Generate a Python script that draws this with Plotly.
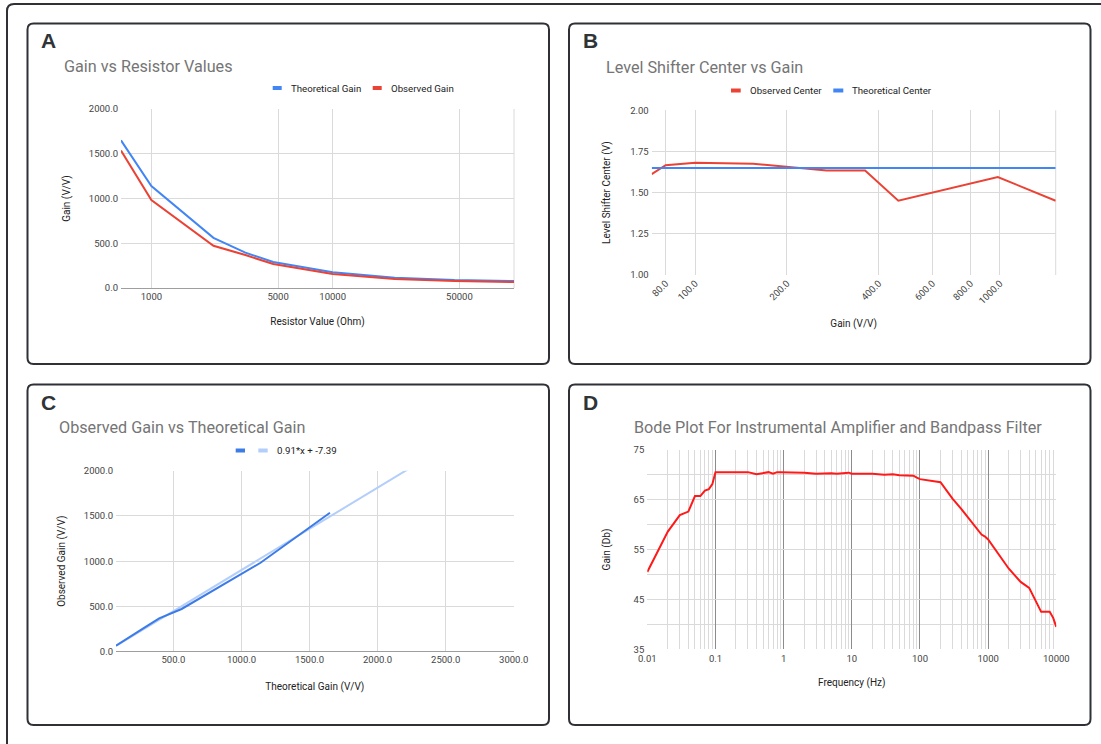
import plotly.graph_objects as go
import math

W, H = 1101, 744

# ---------------- data ----------------
# Panel A : Gain vs Resistor Values
resistor_ohm = [680, 1000, 2200, 3300, 4700, 10000, 22000, 47000, 100000]
theoretical_gain = [1650, 1140, 560, 395, 290, 175, 115, 89, 78]
observed_gain = [1535, 983, 472, 368, 268, 156, 100, 78, 67]
names_a = ["Theoretical Gain", "Observed Gain"]
ticks_a_x = [1000, 5000, 10000, 50000]
ticks_a_y = [0, 500, 1000, 1500, 2000]

# Panel B : Level Shifter Center vs Gain
center_gain = [72, 80, 100, 155, 270, 361, 464, 984, 1524]
observed_center = [1.612, 1.667, 1.682, 1.676, 1.634, 1.634, 1.451, 1.595, 1.451]
theoretical_center = [1.65, 1.65, 1.65, 1.65, 1.65, 1.65, 1.65, 1.65, 1.65]
names_b = ["Observed Center", "Theoretical Center"]
ticks_b_x = [80, 100, 200, 400, 600, 800, 1000]
ticks_b_y = [1.00, 1.25, 1.50, 1.75, 2.00]

# Panel C : Observed Gain vs Theoretical Gain (trendline coefficients)
trend_slope = 0.91
trend_intercept = -7.39
ticks_c_x = [500, 1000, 1500, 2000, 2500, 3000]
ticks_c_y = [0, 500, 1000, 1500, 2000]

# Panel D : Bode plot
freq_hz = [0.01, 0.02, 0.03, 0.04, 0.05, 0.06, 0.07, 0.08, 0.09,
           0.1, 0.2, 0.3, 0.4, 0.5, 0.6, 0.7, 0.8, 0.9,
           1, 2, 3, 4, 5, 6, 7, 8, 9,
           10, 20, 30, 40, 50, 60, 70, 80, 90,
           100, 200, 300, 400, 500, 600, 700, 800, 900,
           1000, 2000, 3000, 4000, 5000, 6000, 7000, 8000, 9000, 10000]
gain_db = [50.5, 58.6, 61.9, 62.6, 65.7, 65.7, 66.8, 67.1, 68.1,
           70.5, 70.5, 70.5, 70.1, 70.3, 70.5, 70.2, 70.5, 70.5,
           70.5, 70.4, 70.2, 70.3, 70.3, 70.2, 70.3, 70.3, 70.4,
           70.2, 70.2, 70.0, 70.1, 69.9, 69.9, 69.9, 69.8, 69.4,
           69.1, 68.5, 65.2, 63.2, 61.5, 60.0, 58.8, 58.0, 57.6,
           57.0, 51.2, 48.5, 47.3, 44.8, 42.5, 42.5, 42.5, 41.3, 39.5]
ticks_d_x = [0.01, 0.1, 1, 10, 100, 1000, 10000]
ticks_d_y = [35, 45, 55, 65, 75]
minor_d_y = [40, 50, 60, 70]

# ---------------- style ----------------
FONT = "Roboto, Arial, sans-serif"
BLUE = "#4285F4"
RED = "#EA4335"
LIGHTBLUE = "#b3cefa"
GRID = "#dadada"
TICKC = "#444444"
TITLEC = "#757575"
BORDER = "#2f3137"


def X(px):
    return px / W


def Y(py):
    return 1 - py / H


fig = go.Figure()

# A
fig.add_trace(go.Scatter(x=resistor_ohm, y=theoretical_gain, name=names_a[0], mode="lines",
                         line=dict(color=BLUE, width=2), xaxis="x", yaxis="y", showlegend=False))
fig.add_trace(go.Scatter(x=resistor_ohm, y=observed_gain, name=names_a[1], mode="lines",
                         line=dict(color=RED, width=2), xaxis="x", yaxis="y", showlegend=False))
# B
fig.add_trace(go.Scatter(x=center_gain, y=observed_center, name=names_b[0], mode="lines",
                         line=dict(color=RED, width=2), xaxis="x2", yaxis="y2", showlegend=False))
fig.add_trace(go.Scatter(x=center_gain, y=theoretical_center, name=names_b[1], mode="lines",
                         line=dict(color=BLUE, width=2), xaxis="x2", yaxis="y2", showlegend=False))
# C
c_xmin = min(theoretical_gain)
c_xmax = ticks_c_x[-1]
trend_x = [c_xmin, c_xmax]
trend_y = [trend_slope * v + trend_intercept for v in trend_x]
trend_name = f"{trend_slope}*x + {trend_intercept}"
fig.add_trace(go.Scatter(x=trend_x, y=trend_y, name=trend_name, mode="lines",
                         line=dict(color=LIGHTBLUE, width=2), xaxis="x3", yaxis="y3", showlegend=False))
fig.add_trace(go.Scatter(x=theoretical_gain, y=observed_gain, name="Observed Gain", mode="lines",
                         line=dict(color="#3d7be6", width=2), xaxis="x3", yaxis="y3", showlegend=False))
# D
fig.add_trace(go.Scatter(x=freq_hz, y=gain_db, name="Gain (Db)", mode="lines",
                         line=dict(color="#ff1a1a", width=2), xaxis="x4", yaxis="y4", showlegend=False))

tickfont = dict(family=FONT, size=9.5, color=TICKC)
titlefont = dict(family=FONT, size=10, color="#222222")


def ax(domain, **kw):
    d = dict(domain=domain, showgrid=True, gridcolor=GRID, gridwidth=1, zeroline=False,
             showline=False, ticks="", tickfont=tickfont, fixedrange=True)
    d.update(kw)
    return d


def dom_x(a, b):
    return [X(a), X(b)]


def dom_y(top, bottom):
    return [Y(bottom), Y(top)]


A_x, A_y = (121, 514), (109, 288)
B_x, B_y = (651.7, 1055.7), (110.3, 275)
C_x, C_y = (116, 513.7), (470.7, 651.7)
D_x, D_y = (647.3, 1056.3), (449.7, 649.3)

fig.update_layout(
    width=W, height=H, margin=dict(l=0, r=0, t=0, b=0),
    paper_bgcolor="white", plot_bgcolor="white", template="none",
    font=dict(family=FONT),
    xaxis=ax(dom_x(*A_x), anchor="y", type="log",
             range=[math.log10(resistor_ohm[0]), math.log10(resistor_ohm[-1])],
             tickvals=ticks_a_x, ticktext=[str(v) for v in ticks_a_x], ticklabelstandoff=1,
             title=dict(text="Resistor Value (Ohm)", font=titlefont, standoff=17)),
    yaxis=ax(dom_y(*A_y), anchor="x", range=[0, 2000], tickvals=ticks_a_y, ticklabelstandoff=2,
             ticktext=[f"{v:.1f}" for v in ticks_a_y], zeroline=True, zerolinecolor="#9e9e9e", zerolinewidth=1,
             title=dict(text="Gain (V/V)", font=titlefont, standoff=16)),
    xaxis2=ax(dom_x(*B_x), anchor="y2", type="log",
              range=[math.log10(center_gain[0]), math.log10(center_gain[-1])],
              tickvals=ticks_b_x, ticktext=[f"{v:.1f}" for v in ticks_b_x], tickangle=-45,
              title=dict(text="Gain (V/V)", font=titlefont, standoff=14)),
    yaxis2=ax(dom_y(*B_y), anchor="x2", range=[1, 2], tickvals=ticks_b_y, ticklabelstandoff=2,
              ticktext=[f"{v:.2f}" for v in ticks_b_y],
              title=dict(text="Level Shifter Center (V)", font=titlefont, standoff=17)),
    xaxis3=ax(dom_x(*C_x), anchor="y3", range=[c_xmin, c_xmax], tickvals=ticks_c_x,
              ticktext=[f"{v:.1f}" for v in ticks_c_x], ticklabelstandoff=1,
              title=dict(text="Theoretical Gain (V/V)", font=titlefont, standoff=18)),
    yaxis3=ax(dom_y(*C_y), anchor="x3", range=[0, 2000], tickvals=ticks_c_y, ticklabelstandoff=2,
              ticktext=[f"{v:.1f}" for v in ticks_c_y], zeroline=True, zerolinecolor="#9e9e9e", zerolinewidth=1,
              title=dict(text="Observed Gain (V/V)", font=titlefont, standoff=16)),
    xaxis4=ax(dom_x(*D_x), anchor="y4", type="log", range=[-2, 4], tickvals=ticks_d_x,
              ticktext=[f"{v:g}" for v in ticks_d_x], gridcolor="#8c8c8c", ticklabelstandoff=2,
              minor=dict(tickvals=[m * 10 ** e for e in range(-2, 4) for m in range(2, 10)],
                         showgrid=True, gridcolor=GRID, gridwidth=1, ticks=""),
              title=dict(text="Frequency (Hz)", font=titlefont, standoff=16)),
    yaxis4=ax(dom_y(*D_y), anchor="x4", range=[35, 75], tickvals=ticks_d_y, ticklabelstandoff=2,
              ticktext=[str(v) for v in ticks_d_y],
              minor=dict(tickvals=minor_d_y, showgrid=True, gridcolor=GRID, gridwidth=1, ticks=""),
              title=dict(text="Gain (Db)", font=titlefont, standoff=21)),
)

shapes = []
annotations = []


def rrect(x0, y0, x1, y1, r, color=BORDER, width=2):
    p = (f"M {X(x0 + r)},{Y(y0)} L {X(x1 - r)},{Y(y0)} Q {X(x1)},{Y(y0)} {X(x1)},{Y(y0 + r)} "
         f"L {X(x1)},{Y(y1 - r)} Q {X(x1)},{Y(y1)} {X(x1 - r)},{Y(y1)} "
         f"L {X(x0 + r)},{Y(y1)} Q {X(x0)},{Y(y1)} {X(x0)},{Y(y1 - r)} "
         f"L {X(x0)},{Y(y0 + r)} Q {X(x0)},{Y(y0)} {X(x0 + r)},{Y(y0)} Z")
    return dict(type="path", path=p, xref="paper", yref="paper", line=dict(color=color, width=width))


shapes.append(rrect(7, 4, 1112, 760, 7))
shapes.append(rrect(27.5, 23.5, 549, 364, 6))
shapes.append(rrect(569, 23.5, 1090.5, 364, 6))
shapes.append(rrect(27.5, 384.5, 549, 725, 6))
shapes.append(rrect(569, 384.5, 1090.5, 725, 6))

# right-edge frame lines for A and B plot areas
for xr, yr in (("x", "y"), ("x2", "y2")):
    shapes.append(dict(type="line", xref=f"{xr} domain", yref=f"{yr} domain", x0=1, x1=1, y0=0, y1=1,
                       line=dict(color=GRID, width=1), layer="below"))

# panel letters
for letter, lx, ly in (("A", 38.5, 41), ("B", 580.5, 41), ("C", 38.5, 402), ("D", 580.5, 402)):
    annotations.append(dict(text=f"<b>{letter}</b>", x=X(lx), y=Y(ly), xref="paper", yref="paper",
                            xanchor="left", yanchor="middle", showarrow=False,
                            font=dict(family="Liberation Sans, Arial, sans-serif", size=21, color="#2f3437")))

# chart titles
for t, tx, ty in (("Gain vs Resistor Values", 61.5, 66),
                  ("Level Shifter Center vs Gain", 603.5, 67.5),
                  ("Observed Gain vs Theoretical Gain", 57, 427.5),
                  ("Bode Plot For Instrumental Amplifier and Bandpass Filter", 631.5, 427)):
    annotations.append(dict(text=t, x=X(tx), y=Y(ty), xref="paper", yref="paper",
                            xanchor="left", yanchor="middle", showarrow=False,
                            font=dict(family=FONT, size=16.2, color=TITLEC)))


def legend_item(x0, x1, yc, color, label):
    shapes.append(dict(type="rect", xref="paper", yref="paper", x0=X(x0), x1=X(x1),
                       y0=Y(yc + 2), y1=Y(yc - 2), fillcolor=color, line=dict(width=0)))
    if label:
        annotations.append(dict(text=label, x=X(x1 + 7), y=Y(yc), xref="paper", yref="paper",
                                xanchor="left", yanchor="middle", showarrow=False,
                                font=dict(family=FONT, size=9.7, color="#222222")))


legend_item(272.7, 281.7, 88, BLUE, names_a[0])
legend_item(372.7, 381.7, 88, RED, names_a[1])
legend_item(731, 740.7, 90.5, RED, names_b[0])
legend_item(833.3, 843.3, 90.5, BLUE, names_b[1])
legend_item(235.7, 245, 450.5, "#3d7be6", "")
legend_item(258.3, 267.7, 450.5, LIGHTBLUE, trend_name)

fig.update_layout(shapes=shapes, annotations=annotations)
fig.write_html("out.html", config={"displayModeBar": False},
               post_script="document.body.style.margin='0';document.body.style.overflow='hidden';")
